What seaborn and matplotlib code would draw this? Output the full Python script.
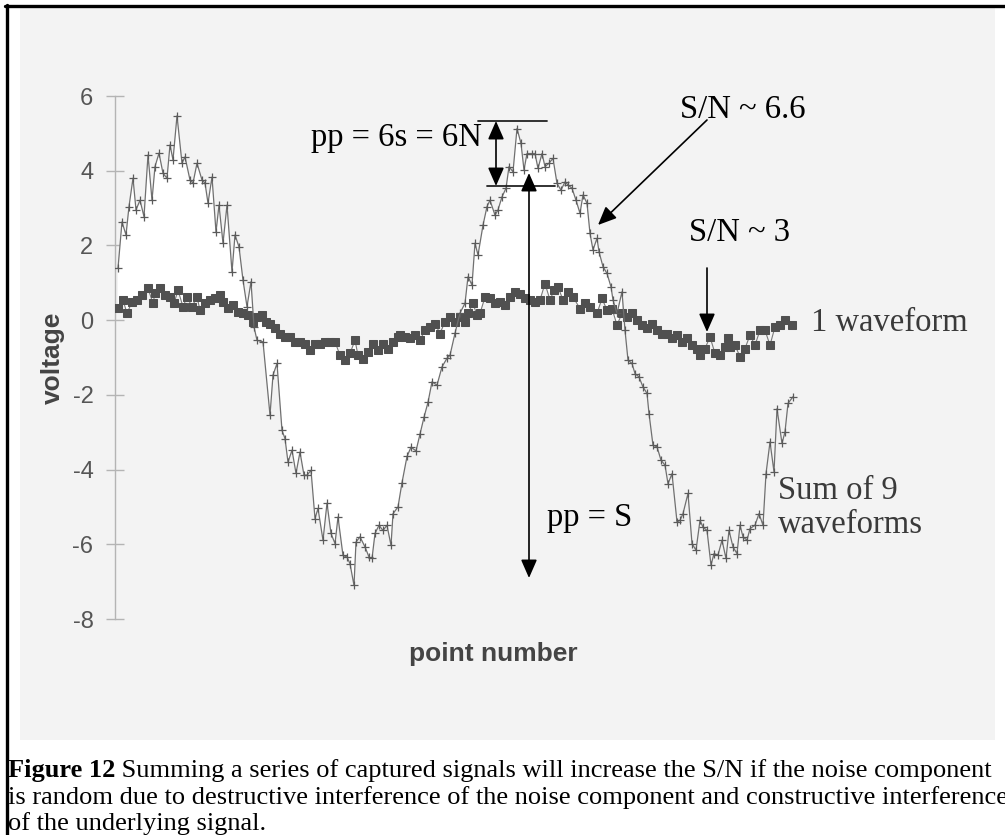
import numpy as np
import matplotlib
matplotlib.use("Agg")
import matplotlib.pyplot as plt
import seaborn as sns
from matplotlib.patches import Rectangle
from matplotlib.lines import Line2D

# ---------------- data ----------------
sum_pt = [1, 5, 9, 12, 16, 19, 23, 27, 31, 35, 38, 42, 46, 50, 53, 56, 60, 65, 68, 73,
          76, 80, 85, 88, 91, 95, 99, 102, 106, 110, 115, 118, 122, 126, 130, 134, 137, 140, 146, 153,
          156, 160, 165, 168, 171, 175, 179, 183, 187, 190, 194, 198, 201, 206, 210, 214, 218, 221, 226, 230,
          233, 237, 239, 243, 248, 252, 255, 258, 262, 266, 270, 274, 276, 281, 285, 290, 294, 299, 303, 307,
          311, 315, 320, 325, 330, 333, 338, 343, 348, 351, 355, 358, 361, 366, 370, 373, 378, 381, 385, 389,
          392, 396, 400, 404, 407, 410, 415, 418, 421, 425, 428, 432, 436, 440, 444, 448, 451, 455, 459, 463,
          466, 470, 473, 476, 480, 482, 486, 490, 494, 496, 500, 505, 508, 511, 515, 518, 522, 526, 530, 532,
          536, 540, 544, 548, 551, 555, 560, 563, 566, 571, 575, 579, 583, 586, 590, 594, 597, 601, 605, 609,
          612, 616, 620, 623, 626, 630, 633, 638, 642, 646, 649, 653, 657, 660, 665, 668, 671, 676]
sum_v = [1.39, 2.63, 2.28, 3.04, 3.80, 2.95, 3.21, 2.77, 4.42, 3.21, 4.11, 4.47, 3.93, 3.80, 4.69, 4.29, 5.47, 4.20, 4.37, 3.75,
         3.67, 4.20, 3.75, 3.67, 3.13, 3.83, 2.36, 3.08, 2.06, 3.08, 1.29, 2.28, 1.96, 1.07, 0.36, 1.03, -0.18, -0.54, -0.58, -2.54,
         -1.47, -1.16, -2.95, -3.17, -3.80, -3.48, -4.10, -3.53, -4.15, -4.15, -4.02, -5.31, -5.04, -5.89, -4.90, -5.71, -5.98, -5.27, -6.30, -6.34,
         -6.52, -7.10, -5.94, -5.80, -6.07, -6.34, -6.38, -5.71, -5.49, -5.63, -5.49, -6.03, -5.18, -5.00, -4.35, -3.65, -3.40, -3.50, -3.05, -2.60,
         -2.20, -1.65, -1.74, -1.25, -1.02, -0.94, -0.35, 0.19, 0.45, 1.16, 0.94, 2.06, 1.74, 2.54, 3.04, 3.21, 2.81, 2.95, 3.30, 3.53,
         4.11, 3.97, 5.13, 4.73, 4.02, 4.46, 4.46, 4.46, 4.06, 4.46, 4.11, 4.20, 4.33, 3.66, 3.48, 3.70, 3.62, 3.53, 3.21, 2.86,
         3.35, 3.13, 2.32, 1.88, 2.19, 1.83, 1.43, 1.25, 0.89, 0.54, 0.18, 0.76, -0.27, -1.07, -1.16, -1.43, -1.52, -1.79, -1.96, -2.50,
         -3.35, -3.39, -3.75, -3.88, -4.38, -4.11, -5.40, -5.36, -5.18, -4.64, -5.98, -6.16, -5.36, -5.54, -5.63, -6.56, -6.25, -6.29, -5.89, -6.38,
         -5.63, -6.07, -6.25, -5.49, -5.80, -5.89, -5.58, -5.49, -5.18, -5.49, -4.11, -3.26, -4.06, -2.37, -3.30, -2.99, -2.23, -2.05]

one_pt = [1, 6, 10, 15, 20, 25, 31, 36, 38, 43, 48, 53, 57, 61, 66, 70, 75, 80, 83, 88,
          93, 98, 103, 106, 111, 116, 121, 126, 131, 136, 140, 145, 149, 153, 158, 163, 168, 173, 178, 183,
          188, 193, 198, 203, 208, 213, 218, 223, 228, 233, 238, 241, 246, 251, 256, 261, 266, 271, 276, 281,
          283, 288, 293, 298, 303, 308, 313, 318, 323, 328, 333, 338, 343, 348, 351, 356, 360, 363, 368, 373,
          378, 383, 388, 393, 398, 403, 408, 413, 418, 423, 428, 433, 437, 441, 446, 451, 456, 463, 468, 473,
          480, 485, 490, 495, 500, 505, 510, 515, 520, 525, 530, 535, 540, 545, 550, 555, 560, 565, 570, 575,
          580, 583, 588, 593, 598, 603, 608, 611, 613, 618, 623, 628, 633, 638, 643, 648, 653, 658, 663, 668, 675]
one_v = [0.32, 0.54, 0.18, 0.49, 0.54, 0.67, 0.85, 0.45, 0.72, 0.85, 0.67, 0.62, 0.45, 0.80, 0.36, 0.62, 0.36, 0.62, 0.27, 0.45,
         0.54, 0.58, 0.67, 0.49, 0.32, 0.40, 0.22, 0.18, 0.13, -0.04, 0.09, 0.13, -0.04, -0.09, -0.22, -0.36, -0.45, -0.45, -0.58, -0.58,
         -0.63, -0.80, -0.63, -0.63, -0.58, -0.58, -0.58, -0.94, -1.07, -0.89, -0.54, -0.94, -1.03, -0.85, -0.63, -0.80, -0.63, -0.76, -0.58, -0.45,
         -0.40, -0.45, -0.49, -0.40, -0.54, -0.27, -0.18, -0.09, -0.36, -0.04, 0.09, -0.04, 0.09, -0.04, 0.18, 0.45, 0.13, 0.18, 0.62, 0.58,
         0.45, 0.49, 0.40, 0.62, 0.76, 0.71, 0.58, 0.54, 0.49, 0.54, 0.98, 0.54, 0.80, 0.89, 0.54, 0.76, 0.62, 0.31, 0.45, 0.36,
         0.18, 0.58, 0.27, 0.31, -0.13, 0.18, 0.09, 0.18, 0.00, -0.13, -0.22, -0.09, -0.27, -0.36, -0.36, -0.49, -0.40, -0.58, -0.49, -0.67,
         -0.76, -0.94, -0.76, -0.45, -0.89, -0.94, -0.71, -0.49, -0.71, -0.67, -0.98, -0.76, -0.40, -0.67, -0.27, -0.27, -0.67, -0.18, -0.13, 0.00, -0.13]

y_ticks = [6, 4, 2, 0, -2, -4, -6, -8]
fill_until = 505   # white fill between the curves up to this point number

# ---------------- figure ----------------
W, H = 1005, 835
sns.set_theme(style="white")
plt.rcParams['font.family'] = ['Liberation Sans', 'DejaVu Sans']
SERIF = ['Liberation Serif', 'DejaVu Serif']

fig = plt.figure(figsize=(W / 100, H / 100), dpi=100, facecolor='white')


def fx(px):
    return px / W


def fy(py):
    return 1 - py / H


def P(px, py):
    return (fx(px), fy(py))


# background panel and frame lines (drawn below the axes)
fig.patches.append(Rectangle(P(20, 740), fx(995) - fx(20), fy(7) - fy(740),
                             transform=fig.transFigure, facecolor='#f3f3f3',
                             edgecolor='none', zorder=-5))
fig.lines.append(Line2D([fx(5), 1.0], [fy(5.5), fy(5.5)], transform=fig.transFigure,
                        color='black', lw=2.4, zorder=-4))
fig.lines.append(Line2D([fx(7), fx(7)], [0.0, fy(4.5)], transform=fig.transFigure,
                        color='black', lw=2.4, zorder=-4))

ax = fig.add_axes([fx(115), fy(619), fx(1000) - fx(115), fy(96) - fy(619)])
ax.set_facecolor('none')

sx, sv = np.array(sum_pt), np.array(sum_v)
ox, ov = np.array(one_pt), np.array(one_v)
sm, om = sx <= fill_until, ox <= fill_until
ax.fill(np.concatenate([sx[sm], ox[om][::-1]]), np.concatenate([sv[sm], ov[om][::-1]]),
        color='white', lw=0, zorder=1)

sns.lineplot(x=one_pt, y=one_v, ax=ax, estimator=None, sort=False, color='#7a7a7a', lw=0.8,
             marker='s', markersize=5.2, markerfacecolor='#505050', markeredgecolor='#505050',
             zorder=3)
sns.lineplot(x=sum_pt, y=sum_v, ax=ax, estimator=None, sort=False, color='#707070', lw=0.9,
             marker='+', markersize=6, markeredgecolor='#5a5a5a', markeredgewidth=0.9,
             zorder=4)

ax.set_xlim(-2, 883)
ax.set_ylim(-8, 6)
ax.set_xticks([])
ax.set_yticks(y_ticks)
ax.set_yticklabels([str(t) for t in y_ticks])
for s in ['top', 'right', 'bottom']:
    ax.spines[s].set_visible(False)
ax.spines['left'].set_color('#b4b4b4')
ax.spines['left'].set_linewidth(1)
ax.spines['left'].set_bounds(-8, 6)
ax.tick_params(axis='y', direction='inout', length=13, width=1, color='#b4b4b4',
               labelsize=17, labelcolor='#555555', pad=9, left=True)
ax.grid(False)

ax.set_ylabel('voltage', fontsize=19, fontweight='bold', color='#444444')
ax.yaxis.set_label_coords((65 - 115) / 885, 0.50)
ax.set_xlabel('point number', fontsize=19, fontweight='bold', color='#444444')
ax.xaxis.set_label_coords((493 - 115) / 885, (619 - 642) / 523)

# ---------------- annotations ----------------
txt = dict(family=SERIF, fontsize=23.5, color='black', va='center', ha='left')
fig.text(*P(311, 138), 'pp = 6s = 6N', **txt)
fig.text(*P(680, 110), 'S/N ~ 6.6', **txt)
fig.text(*P(689, 233), 'S/N ~ 3', **txt)
fig.text(*P(547, 518), 'pp = S', **txt)
fig.text(*P(811, 323), '1 waveform', **{**txt, 'color': '#3a3a3a'})
fig.text(*P(778, 508), 'Sum of 9\nwaveforms', linespacing=1.15, **{**txt, 'color': '#3a3a3a'})

fig.lines.append(Line2D([fx(478), fx(547)], [fy(120.5), fy(120.5)], transform=fig.transFigure,
                        color='#222222', lw=1.3))
fig.lines.append(Line2D([fx(487), fx(555)], [fy(186), fy(186)], transform=fig.transFigure,
                        color='#222222', lw=1.3))


def arrow(p0, p1, style):
    fig.add_artist(matplotlib.patches.FancyArrowPatch(
        P(*p0), P(*p1), transform=fig.transFigure, arrowstyle=style,
        mutation_scale=14, color='black', lw=1.2, shrinkA=0, shrinkB=0, zorder=6))


arrow((496, 121), (496, 186), '<|-|>,head_length=0.8,head_width=0.35')
arrow((529, 173), (529, 578), '<|-|>,head_length=0.8,head_width=0.35')
arrow((707, 120), (598, 225), '-|>,head_length=0.8,head_width=0.35')
arrow((707, 268), (707, 332), '-|>,head_length=0.8,head_width=0.35')

# ---------------- caption ----------------
cap = dict(family=SERIF, fontsize=19, color='black', va='baseline', ha='left')
t_bold = fig.text(*P(8, 777), 'Figure 12', fontweight='bold', **cap)
fig.canvas.draw()
bb = t_bold.get_window_extent(fig.canvas.get_renderer())
fig.text(bb.x1 / W, fy(777), ' Summing a series of captured signals will increase the S/N if the noise component', **cap)
fig.text(*P(8, 804), 'is random due to destructive interference of the noise component and constructive interference', **cap)
fig.text(*P(8, 830), 'of the underlying signal.', **cap)

fig.savefig('out.png', dpi=100, facecolor='white')
